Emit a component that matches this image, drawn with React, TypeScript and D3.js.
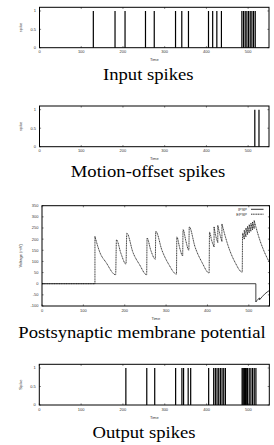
import * as d3 from "d3";

// axis ticks
const timeTicks = [0, 100, 200, 300, 400, 500];
const spikeTicks = [0, 0.5, 1];
const voltTicks = [-100, -50, 0, 50, 100, 150, 200, 250, 300, 350];

// spike times
const inputSpikes = [129, 181, 205, 254, 275, 326, 341, 357, 405, 415, 425, 436, 485, 489, 493, 497, 501, 505, 509, 513, 517];
const offsetSpikes = [516, 526];
const outputSpikes = [207, 257, 276, 326, 341, 345, 356, 362, 405, 417, 421, 425, 429, 433, 437, 441, 445,
  485, 487, 489, 491, 493, 495, 498, 502, 506, 510, 514, 518];

// membrane potential [time, mV]; repeated time = jump
const epsp: [number, number][] = [
  [0, 0], [128, 0],
  [128, 212], [140, 140], [155, 95], [178, 40],
  [180, 197], [191, 135], [203, 88],
  [205, 227], [220, 140], [236, 85], [253, 40],
  [254, 205], [263, 150], [274, 110],
  [275, 235], [290, 150], [307, 85], [325, 43],
  [326, 210], [333, 160], [340, 125],
  [341, 243], [348, 190], [355, 150],
  [356, 255], [370, 165], [387, 95], [404, 48],
  [405, 232], [410, 195], [416, 165],
  [416, 255], [420, 215], [425, 185],
  [425, 262], [430, 222], [435, 190],
  [435, 268], [450, 170], [467, 95], [484, 52],
  [485, 227], [489, 200],
  [489, 240], [493, 210],
  [493, 250], [497, 220],
  [497, 258], [501, 228],
  [501, 265], [505, 235],
  [505, 271], [509, 241],
  [509, 277], [513, 247],
  [513, 283], [525, 205], [537, 145], [550, 95],
];
const ipsp: [number, number][] = [
  [0, 0], [517, 0],
  [517, -82], [522, -70], [526, -64],
  [526, -72], [538, -47], [550, -30],
];

const W = 274;
const H = 445;

function splitRuns(pts: [number, number][]) {
  const runs: [number, number][][] = [];
  let cur: [number, number][] = [];
  pts.forEach((p, i) => {
    if (i > 0 && p[0] === pts[i - 1][0]) {
      runs.push(cur);
      cur = [];
    }
    cur.push(p);
  });
  runs.push(cur);
  return runs;
}

function Frame({ x, y, yTicks, yLabel, yFmt }: any) {
  const [l, r] = x.range();
  const [b, t] = y.range();
  const tl = 1.6;
  return (
    <g>
      {timeTicks.map((v) => (
        <g key={"x" + v}>
          <line x1={x(v)} x2={x(v)} y1={b} y2={b - tl} stroke="#000" strokeWidth={0.5} />
          <line x1={x(v)} x2={x(v)} y1={t} y2={t + tl} stroke="#000" strokeWidth={0.5} />
          <text x={x(v)} y={b + 5.6} fontSize={4} textAnchor="middle" fill="#333">{v}</text>
        </g>
      ))}
      {yTicks.map((v: number) => (
        <g key={"y" + v}>
          <line x1={l} x2={l + tl} y1={y(v)} y2={y(v)} stroke="#000" strokeWidth={0.5} />
          <line x1={r} x2={r - tl} y1={y(v)} y2={y(v)} stroke="#000" strokeWidth={0.5} />
          <text x={l - 3.5} y={y(v) + 1.4} fontSize={4} textAnchor="end" fill="#333">{yFmt(v)}</text>
        </g>
      ))}
      <text x={(l + r) / 2} y={b + 13.6} fontSize={4} textAnchor="middle" fill="#333">Time</text>
      <text transform={`translate(22,${(t + b) / 2}) rotate(-90)`} fontSize={4} textAnchor="middle" fill="#333">{yLabel}</text>
      <rect x={l} y={t} width={r - l} height={b - t} fill="none" stroke="#000" strokeWidth={1} />
    </g>
  );
}

function Title({ cx, y, text }: { cx: number; y: number; text: string }) {
  return (
    <text transform={`translate(${cx},${y}) scale(1.13,1)`} textAnchor="middle"
      fontFamily="'Liberation Serif', serif" fontSize={16.5} fill="#000">{text}</text>
  );
}

function SpikePanel({ top, bottom, left, right, spikes, yLabel }: any) {
  const x = d3.scaleLinear().domain([0, 550]).range([left, right]);
  const y = d3.scaleLinear().domain([0, 1.1]).range([bottom, top]);
  return (
    <g>
      {spikes.map((s: number, i: number) => (
        <line key={i} x1={x(s)} x2={x(s)} y1={y(0)} y2={y(1)} stroke="#000" strokeWidth={1.2} />
      ))}
      <Frame x={x} y={y} yTicks={spikeTicks} yLabel={yLabel} yFmt={(v: number) => String(v)} />
    </g>
  );
}

function PotentialPanel() {
  const x = d3.scaleLinear().domain([0, 550]).range([42, 269.5]);
  const y = d3.scaleLinear().domain([-100, 350]).range([306, 205.7]);
  const line = d3.line<[number, number]>().x((d) => x(d[0])).y((d) => y(d[1])).curve(d3.curveMonotoneX);
  const drawTrace = (pts: [number, number][], dash: string | undefined, key: string) => {
    const runs = splitRuns(pts);
    return (
      <g key={key}>
        {runs.map((run, i) => (
          <path key={i} d={line(run) || ""} fill="none" stroke="#111" strokeWidth={0.8} strokeDasharray={dash} />
        ))}
        {runs.slice(1).map((run, i) => {
          const prev = runs[i][runs[i].length - 1];
          return (
            <line key={"j" + i} x1={x(prev[0])} x2={x(run[0][0])} y1={y(prev[1])} y2={y(run[0][1])}
              stroke="#111" strokeWidth={0.8} strokeDasharray={dash} />
          );
        })}
      </g>
    );
  };
  return (
    <g>
      {drawTrace(ipsp, undefined, "ipsp")}
      {drawTrace(epsp, "1.2 0.5", "epsp")}
      <text x={247} y={210.8} fontSize={4} textAnchor="end" fill="#333">IPSP</text>
      <line x1={251} x2={263.5} y1={209.3} y2={209.3} stroke="#000" strokeWidth={0.8} />
      <text x={247} y={215.6} fontSize={4} textAnchor="end" fill="#333">EPSP</text>
      <line x1={251} x2={263.5} y1={214.2} y2={214.2} stroke="#000" strokeWidth={0.8} strokeDasharray="1.2 0.5" />
      <Frame x={x} y={y} yTicks={voltTicks} yLabel="Voltage (mV)" yFmt={(v: number) => String(v)} />
    </g>
  );
}

export default function App() {
  return (
    <svg width={W} height={H} style={{ position: "absolute", left: 0, top: 0, background: "#fff" }}
      fontFamily="'Liberation Sans', Arial, sans-serif">
      <SpikePanel top={7.3} bottom={47.7} left={39.5} right={269} spikes={inputSpikes} yLabel="spike" />
      <Title cx={148.3} y={79.5} text="Input spikes" />
      <SpikePanel top={106} bottom={146.7} left={39.5} right={269} spikes={offsetSpikes} yLabel="spike" />
      <Title cx={148} y={176.5} text="Motion-offset spikes" />
      <PotentialPanel />
      <Title cx={142} y={337.5} text="Postsynaptic membrane potential" />
      <SpikePanel top={364.3} bottom={405} left={39.3} right={269.3} spikes={outputSpikes} yLabel="Spike" />
      <Title cx={144} y={437.5} text="Output spikes" />
    </svg>
  );
}
